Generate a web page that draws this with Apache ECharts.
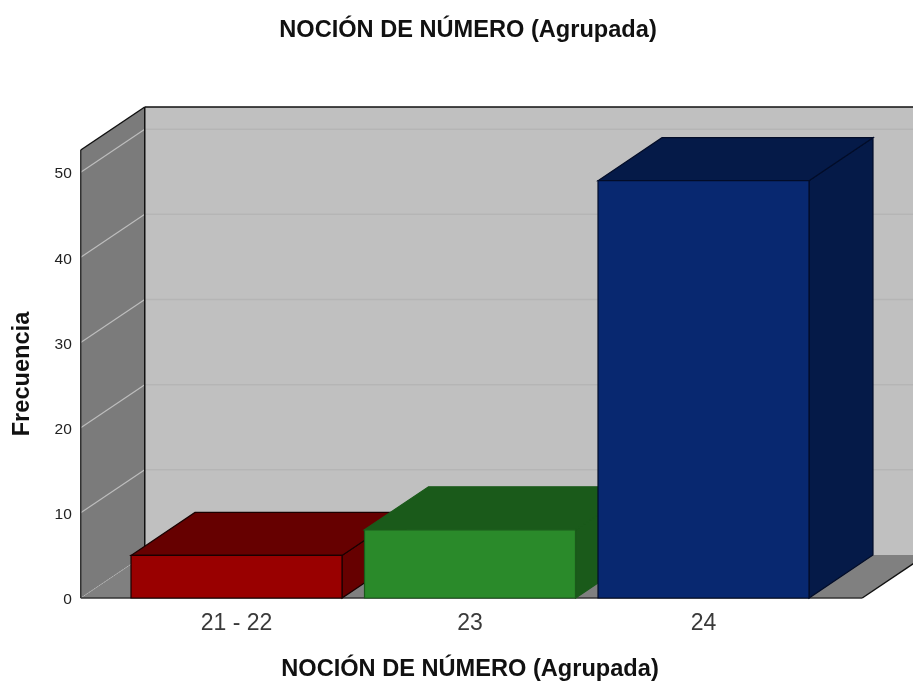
<!DOCTYPE html>
<html>
<head>
<meta charset="utf-8">
<style>html,body{margin:0;padding:0;background:#fff}#chart{width:913px;height:681px}</style>
<script src="https://cdn.jsdelivr.net/npm/echarts@6/dist/echarts.min.js"></script>
</head>
<body>
<div id="chart"></div>
<script>
// Frequencies per grouped score
const categories = ['21 - 22', '23', '24'];
const frequencies = [5, 8, 49];
const frontColors = ['#990000', '#2a8a2a', '#082870'];
const shadeColors = ['#660000', '#1a5a1a', '#051a48'];
const edgeColors = ['#1a0000', '#1a5a1a', '#020c28'];
const gridValues = [10, 20, 30, 40, 50];

// Oblique projection used for the pseudo-3D box
const DEPTH_X = 64;
const DEPTH_Y = -43;
const BAR_RATIO = 211 / 233.5;
const OVER_LEFT = 39;
const OVER_RIGHT = 42;

function poly(points, fill, stroke, width) {
  return {
    type: 'polygon',
    shape: { points },
    style: { fill, stroke: stroke || 'none', lineWidth: width || 0 }
  };
}
function seg(x1, y1, x2, y2, stroke, width, dash) {
  return {
    type: 'line',
    shape: { x1, y1, x2, y2 },
    style: { stroke, lineWidth: width, lineDash: dash || null }
  };
}

function renderFrame(params, api) {
  const g = params.coordSys;
  const L = g.x - OVER_LEFT;
  const R = g.x + g.width + OVER_RIGHT;
  const T = g.y;
  const B = g.y + g.height;
  const children = [
    poly([[L + DEPTH_X, T + DEPTH_Y], [R + DEPTH_X, T + DEPTH_Y], [R + DEPTH_X, B + DEPTH_Y], [L + DEPTH_X, B + DEPTH_Y]], '#c0c0c0'),
    poly([[L, T], [L + DEPTH_X, T + DEPTH_Y], [L + DEPTH_X, B + DEPTH_Y], [L, B]], '#7b7b7b'),
    poly([[L, B], [L + DEPTH_X, B + DEPTH_Y], [R + DEPTH_X, B + DEPTH_Y], [R, B]], '#808080')
  ];
  gridValues.forEach(function (v) {
    const y = api.coord([0, v])[1];
    children.push(seg(L, y, L + DEPTH_X, y + DEPTH_Y, '#bdbdbd', 1.2));
    children.push(seg(L + DEPTH_X, y + DEPTH_Y, R + DEPTH_X, y + DEPTH_Y, '#b5b5b5', 1.5));
  });
  children.push(seg(L, B, L + DEPTH_X, B + DEPTH_Y, '#b8b8b8', 1, [1, 1]));
  children.push(seg(L, T, L + DEPTH_X, T + DEPTH_Y, '#111', 1.5));
  children.push(seg(L + DEPTH_X, T + DEPTH_Y, R + DEPTH_X, T + DEPTH_Y, '#111', 1.5));
  children.push(seg(L + DEPTH_X, T + DEPTH_Y, L + DEPTH_X, B + DEPTH_Y, '#111', 1.5));
  children.push(seg(L, T, L, B, '#333', 1.5));
  children.push(seg(L, B, R, B, '#333', 1.5));
  children.push(seg(R, B, R + DEPTH_X, B + DEPTH_Y, '#111', 1.5));
  return { type: 'group', children };
}

function renderBar(params, api) {
  const i = api.value(0);
  const base = api.coord([i, 0]);
  const top = api.coord([i, api.value(1)]);
  const w = api.size([1, 0])[0] * BAR_RATIO;
  const x0 = base[0] - w / 2;
  const x1 = base[0] + w / 2;
  const yT = top[1];
  const yB = base[1];
  const front = frontColors[i];
  const shade = shadeColors[i];
  const edge = edgeColors[i];
  return {
    type: 'group',
    children: [
      poly([[x1, yT], [x1 + DEPTH_X, yT + DEPTH_Y], [x1 + DEPTH_X, yB + DEPTH_Y], [x1, yB]], shade, edge, 1.2),
      poly([[x0, yT], [x0 + DEPTH_X, yT + DEPTH_Y], [x1 + DEPTH_X, yT + DEPTH_Y], [x1, yT]], shade, edge, 1.2),
      poly([[x0, yT], [x1, yT], [x1, yB], [x0, yB]], front, edge, 1.2)
    ]
  };
}

const chart = echarts.init(document.getElementById('chart'), null, { renderer: 'canvas' });
chart.setOption({
  animation: false,
  backgroundColor: '#ffffff',
  textStyle: { fontFamily: '"Liberation Sans", Arial, sans-serif' },
  title: {
    text: 'NOCIÓN DE NÚMERO (Agrupada)',
    left: 463,
    top: 13,
    textAlign: 'center',
    textStyle: { fontFamily: '"Liberation Sans", Arial, sans-serif', fontSize: 23.6, fontWeight: 'bold', color: '#111' }
  },
  grid: { left: 119.75, top: 150, width: 700.5, height: 448, outerBoundsMode: 'none' },
  xAxis: {
    type: 'category',
    data: categories,
    axisLine: { show: false },
    axisTick: { show: false },
    splitLine: { show: false },
    axisLabel: { fontSize: 23, color: '#3a3a3a', margin: 14 },
    name: 'NOCIÓN DE NÚMERO (Agrupada)',
    nameLocation: 'middle',
    nameGap: 59,
    nameTextStyle: { fontSize: 23.6, fontWeight: 'bold', color: '#111' }
  },
  yAxis: {
    type: 'value',
    min: 0,
    max: 52.6,
    interval: 10,
    offset: 39,
    axisLine: { show: false },
    axisTick: { show: false },
    splitLine: { show: false },
    axisLabel: { fontSize: 15.5, color: '#222', margin: 9, showMaxLabel: false, verticalAlign: 'top', lineHeight: 4 },
    name: 'Frecuencia',
    nameLocation: 'middle',
    nameGap: 46,
    nameTextStyle: { fontSize: 23.6, fontWeight: 'bold', color: '#111' }
  },
  series: [
    {
      type: 'custom',
      name: 'frame',
      silent: true,
      clip: false,
      z: 1,
      renderItem: renderFrame,
      data: [[0, 0]],
      encode: { x: 0, y: 1 }
    },
    {
      type: 'custom',
      name: 'Frecuencia',
      clip: false,
      z: 2,
      renderItem: renderBar,
      data: frequencies.map(function (v, i) { return [i, v]; }),
      encode: { x: 0, y: 1 }
    }
  ]
});
</script>
</body>
</html>
